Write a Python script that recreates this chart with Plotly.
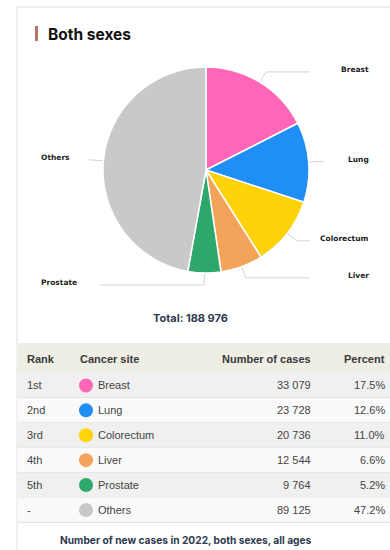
import math
import plotly.graph_objects as go

# ---------------- data ----------------
sites = ["Breast", "Lung", "Colorectum", "Liver", "Prostate", "Others"]
cases = [33079, 23728, 20736, 12544, 9764, 89125]
ranks = ["1st", "2nd", "3rd", "4th", "5th", "-"]
colors = ["#ff66b8", "#1f8ef5", "#ffd20a", "#f4a35a", "#2ea86a", "#c9c9c9"]
headers = ["Rank", "Cancer site", "Number of cases", "Percent"]
title_text = "Both sexes"
footer_text = "Number of new cases in 2022, both sexes, all ages"

W, H = 390, 550
total = sum(cases)


def fmt(n):
    return f"{n:,}".replace(",", " ")


# pie geometry (pixels)
cx, cy, R = 206, 170, 103

fig = go.Figure()

fig.add_trace(go.Pie(
    labels=sites, values=cases, sort=False, direction="clockwise", rotation=0,
    marker=dict(colors=colors, line=dict(color="white", width=1.5)),
    textinfo="none", hoverinfo="label+value+percent", showlegend=False,
    domain=dict(x=[(cx - R) / W, (cx + R) / W], y=[1 - (cy + R) / H, 1 - (cy - R) / H]),
))

shapes = []
annotations = []

# card border + accent
shapes.append(dict(type="line", xref="x", yref="y", x0=17, x1=17, y0=7, y1=H,
                   line=dict(color="#e2e2e2", width=1), layer="below"))
shapes.append(dict(type="line", xref="x", yref="y", x0=17, x1=W, y0=7, y1=7,
                   line=dict(color="#e2e2e2", width=1), layer="below"))
shapes.append(dict(type="rect", xref="x", yref="y", x0=35, x1=38, y0=26, y1=41,
                   line=dict(width=0), fillcolor="#b27a66", layer="below"))
annotations.append(dict(x=46, y=34, xref="x", yref="y", text=title_text, showarrow=False,
                        xanchor="left", yanchor="middle",
                        font=dict(family="Inter", size=15.5, color="#111111", weight=700)))

# connectors and labels from slice angles
label_font = dict(family="DejaVu Sans", size=7.5, color="#222222", weight=700)
cum = 0
for s, v in zip(sites, cases):
    frac_mid = (cum + v / 2) / total
    cum += v
    a = 2 * math.pi * frac_mid
    ex, ey = cx + R * math.sin(a), cy - R * math.cos(a)
    bx, by = cx + (R + 12) * math.sin(a), cy - (R + 12) * math.cos(a)
    right = math.sin(a) >= 0 and frac_mid < 0.5
    endx = max(310, bx + 3) if right else min(100, bx - 3)
    fig.add_trace(go.Scatter(x=[ex, bx, endx], y=[ey, by, by], mode="lines",
                             line=dict(color="#d4d4d4", width=1), hoverinfo="skip",
                             showlegend=False, xaxis="x", yaxis="y"))
    annotations.append(dict(x=371 if right else 39, y=by - 2, xref="x", yref="y", text=s,
                            showarrow=False, xanchor="right" if right else "left",
                            yanchor="middle", font=label_font))

# total
annotations.append(dict(x=190, y=318, xref="x", yref="y", text=f"Total: {fmt(total)}",
                        showarrow=False, xanchor="center", yanchor="middle",
                        font=dict(family="Inter", size=11, color="#2e3a4f", weight=700)))

# table
head_top, head_bot = 343, 373
row_h = 24.9
shapes.append(dict(type="rect", xref="x", yref="y", x0=17.5, x1=W, y0=head_top, y1=head_bot,
                   line=dict(width=0), fillcolor="#efeee5", layer="below"))
hx = [25, 78, 313, 387]
hanch = ["left", "left", "right", "right"]
for t, x, anc in zip(headers, hx, hanch):
    annotations.append(dict(x=x, y=(head_top + head_bot) / 2 + 1, xref="x", yref="y", text=t,
                            showarrow=False, xanchor=anc, yanchor="middle",
                            font=dict(family="Liberation Sans", size=11, color="#3a3a3a", weight=700)))

dot_x, dot_y = [], []
rowfont = dict(family="Liberation Sans", size=11, color="#444444")
for i, (rk, s, v) in enumerate(zip(ranks, sites, cases)):
    y0 = head_bot + i * row_h
    y1 = y0 + row_h
    ym = (y0 + y1) / 2
    shapes.append(dict(type="rect", xref="x", yref="y", x0=17.5, x1=W, y0=y0, y1=y1,
                       line=dict(width=0), fillcolor="#f0f0f0" if i % 2 == 0 else "#fafafa",
                       layer="below"))
    shapes.append(dict(type="line", xref="x", yref="y", x0=17.5, x1=W, y0=y1, y1=y1,
                       line=dict(color="#e0e0e0", width=1), layer="below"))
    dot_x.append(86)
    dot_y.append(ym)
    annotations.append(dict(x=25, y=ym, xref="x", yref="y", text=rk, showarrow=False,
                            xanchor="left", yanchor="middle", font=rowfont))
    annotations.append(dict(x=96, y=ym, xref="x", yref="y", text=s, showarrow=False,
                            xanchor="left", yanchor="middle", font=rowfont))
    annotations.append(dict(x=313, y=ym, xref="x", yref="y", text=fmt(v), showarrow=False,
                            xanchor="right", yanchor="middle", font=rowfont))
    annotations.append(dict(x=387, y=ym, xref="x", yref="y", text=f"{100 * v / total:.1f}%",
                            showarrow=False, xanchor="right", yanchor="middle", font=rowfont))

fig.add_trace(go.Scatter(x=dot_x, y=dot_y, mode="markers",
                         marker=dict(size=14, color=colors, line=dict(width=0)),
                         hoverinfo="skip", showlegend=False, xaxis="x", yaxis="y"))

annotations.append(dict(x=186, y=540, xref="x", yref="y", text=footer_text, showarrow=False,
                        xanchor="center", yanchor="middle",
                        font=dict(family="Inter", size=10.2, color="#2e3a4f", weight=700)))

fig.update_layout(
    width=W, height=H, margin=dict(l=0, r=0, t=0, b=0),
    paper_bgcolor="white", plot_bgcolor="rgba(0,0,0,0)",
    xaxis=dict(range=[0, W], visible=False, fixedrange=True, domain=[0, 1]),
    yaxis=dict(range=[H, 0], visible=False, fixedrange=True, domain=[0, 1]),
    shapes=shapes, annotations=annotations, showlegend=False,
)

fig.write_html("out.html")
